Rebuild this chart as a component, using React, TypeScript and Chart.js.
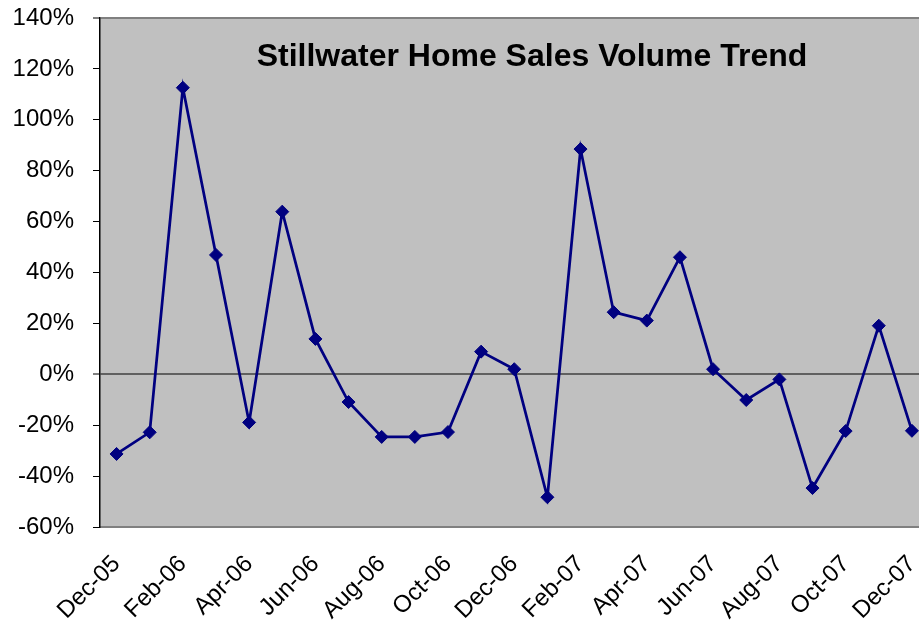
import React, { useEffect, useRef } from "react";
import { Chart, registerables } from "chart.js";

Chart.register(...registerables);

const months: string[] = [
  "Dec-05", "Jan-06", "Feb-06", "Mar-06", "Apr-06", "May-06", "Jun-06",
  "Jul-06", "Aug-06", "Sep-06", "Oct-06", "Nov-06", "Dec-06", "Jan-07",
  "Feb-07", "Mar-07", "Apr-07", "May-07", "Jun-07", "Jul-07", "Aug-07",
  "Sep-07", "Oct-07", "Nov-07", "Dec-07",
];

const volumeChange: number[] = [
  -31.3, -22.8, 112.6, 46.9, -18.9, 63.9, 13.9,
  -10.9, -24.6, -24.6, -22.7, 8.9, 2.0, -48.3,
  88.5, 24.4, 21.1, 46.0, 2.0, -10.1, -2.0,
  -44.7, -22.3, 19.1, -22.2,
];

const yMin = -60;
const yMax = 140;
const yStep = 20;

const chartTitle = "Stillwater Home Sales Volume Trend";
const FONT = "'Liberation Sans', Arial, Helvetica, sans-serif";

export default function App() {
  const canvasRef = useRef<HTMLCanvasElement | null>(null);

  useEffect(() => {
    if (!canvasRef.current) return;

    const plotBg = {
      id: "plotBg",
      beforeDraw(chart: any) {
        const { ctx, chartArea } = chart;
        ctx.save();
        ctx.fillStyle = "#C0C0C0";
        ctx.fillRect(chartArea.left, chartArea.top, chartArea.right - chartArea.left, chartArea.bottom - chartArea.top);
        ctx.restore();
      },
    };

    const innerTitle = {
      id: "innerTitle",
      afterDraw(chart: any) {
        const { ctx } = chart;
        ctx.save();
        ctx.font = `bold 32px ${FONT}`;
        ctx.fillStyle = "#000000";
        ctx.textAlign = "center";
        ctx.textBaseline = "alphabetic";
        ctx.fillText(chartTitle, 532, 66);
        ctx.restore();
      },
    };

    const chart = new Chart(canvasRef.current, {
      type: "line",
      data: {
        labels: months,
        datasets: [
          {
            label: "Volume change",
            data: volumeChange,
            borderColor: "#000080",
            backgroundColor: "#000080",
            borderWidth: 2.75,
            pointStyle: "rectRot",
            pointRadius: 6.5,
            pointBorderWidth: 1,
            pointBackgroundColor: "#000080",
            pointBorderColor: "#000080",
            tension: 0,
            fill: false,
          },
        ],
      },
      options: {
        animation: false,
        responsive: true,
        maintainAspectRatio: false,
        layout: { padding: { top: 18, left: 0, right: 0, bottom: 0 } },
        plugins: {
          legend: { display: false },
          title: { display: false },
          tooltip: { enabled: false },
        },
        scales: {
          x: {
            type: "category",
            offset: true,
            grid: { display: false, drawTicks: false },
            border: { display: true, color: "#808080", width: 2 },
            ticks: {
              autoSkip: false,
              maxRotation: 45,
              minRotation: 45,
              padding: 23,
              color: "#000000",
              font: { family: FONT, size: 24 },
              callback: (_v: any, i: number) => (i % 2 === 0 ? months[i] : ""),
            },
            afterFit: (scale: any) => {
              scale.height = 106;
              scale.paddingLeft = 0;
              scale.paddingRight = 0;
            },
          },
          y: {
            min: yMin,
            max: yMax,
            ticks: {
              stepSize: yStep,
              padding: 19,
              color: "#000000",
              font: { family: FONT, size: 24 },
              callback: (v: any) => `${v}%`,
            },
            grid: {
              drawTicks: true,
              tickLength: 7,
              tickColor: "#000000",
              tickWidth: 1,
              color: (ctx: any) => {
                const v = ctx.tick ? ctx.tick.value : null;
                if (v === 0) return "#606060";
                if (v === yMax) return "#808080";
                return "rgba(0,0,0,0)";
              },
              lineWidth: (ctx: any) => {
                const v = ctx.tick ? ctx.tick.value : null;
                if (v === 0 || v === yMax) return 2;
                return 1;
              },
            },
            border: { display: true, color: "#000000", width: 1.5 },
            afterFit: (scale: any) => {
              scale.width = 100;
              scale.paddingTop = 0;
              scale.paddingBottom = 0;
            },
          },
        },
      },
      plugins: [plotBg, innerTitle],
    });

    return () => chart.destroy();
  }, []);

  return (
    <div style={{ position: "fixed", left: 0, top: 0, width: 919, height: 633, overflow: "hidden", background: "#ffffff" }}>
      <div style={{ position: "relative", width: 936, height: 633 }}>
        <canvas ref={canvasRef} />
      </div>
    </div>
  );
}
